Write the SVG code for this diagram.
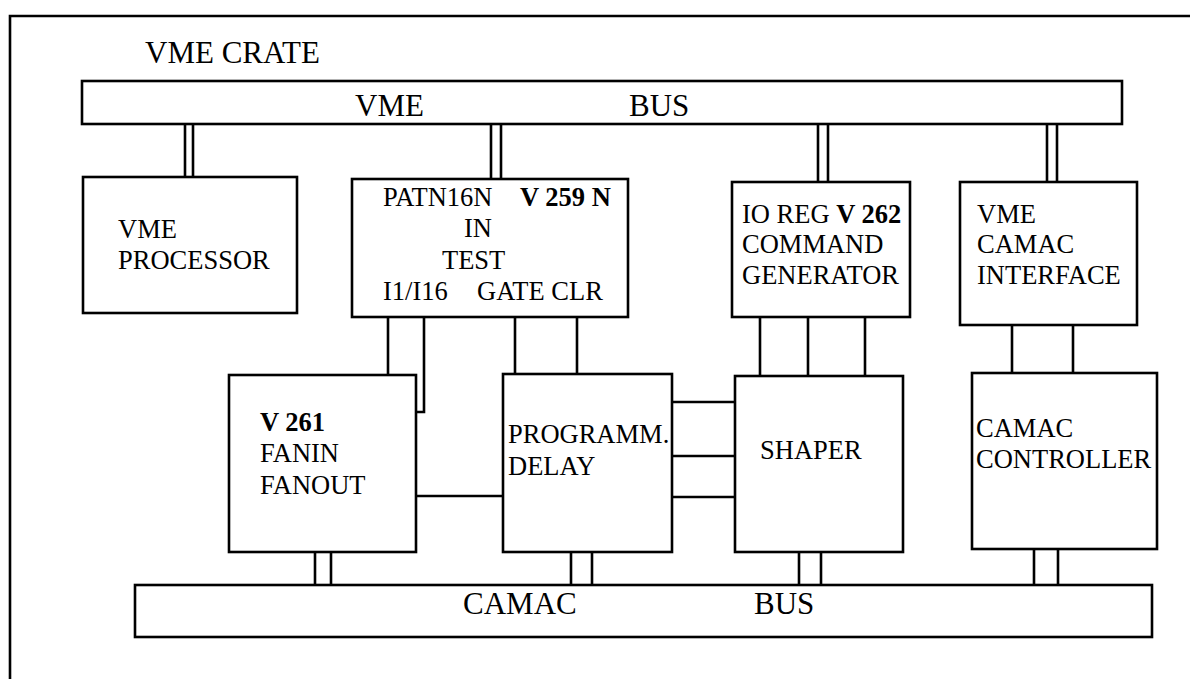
<svg xmlns="http://www.w3.org/2000/svg" width="1190" height="679" viewBox="0 0 1190 679">
<style>
.b{fill:#fff;stroke:#000;stroke-width:2.6}
.c{fill:none;stroke:#000;stroke-width:2.6}
.t{font-family:"Liberation Serif","Times New Roman",serif;font-size:26.5px;fill:#000}
.big{font-size:31px}
.bold{font-weight:bold}
</style>
<rect width="1190" height="679" fill="#fff"/>
<path class="c" d="M10,679 V16 H1190"/>
<text class="t big" x="145" y="63">VME CRATE</text>
<g id="connectors">
<path class="c" d="M185,124 V177 M193,124 V177"/>
<path class="c" d="M491,124 V179 M501,124 V179"/>
<path class="c" d="M818,124 V182 M828,124 V182"/>
<path class="c" d="M1047,124 V182 M1057,124 V182"/>
<path class="c" d="M388,317 V375"/>
<path class="c" d="M424,317 V412 H416"/>
<path class="c" d="M515,317 V374 M577,317 V374"/>
<path class="c" d="M760,317 V376 M808,317 V376 M865,317 V376"/>
<path class="c" d="M1012,325 V373 M1073,325 V373"/>
<path class="c" d="M416,496 H503"/>
<path class="c" d="M672,402 H735 M672,456 H735 M672,497 H735"/>
<path class="c" d="M315,552 V585 M331,552 V585"/>
<path class="c" d="M571,552 V585 M592,552 V585"/>
<path class="c" d="M799,552 V585 M821,552 V585"/>
<path class="c" d="M1034,549 V585 M1058,549 V585"/>
</g>
<g id="vmebus">
<rect class="b" x="82" y="81" width="1040" height="43"/>
<text class="t big" x="355" y="116">VME</text>
<text class="t big" x="629" y="116">BUS</text>
</g>
<g id="camacbus">
<rect class="b" x="135" y="585" width="1017" height="52"/>
<text class="t big" x="463" y="614">CAMAC</text>
<text class="t big" x="754" y="614">BUS</text>
</g>
<g id="processor">
<rect class="b" x="83" y="177" width="214" height="136"/>
<text class="t" x="118" y="238">VME</text>
<text class="t" x="118" y="269">PROCESSOR</text>
</g>
<g id="patn">
<rect class="b" x="352" y="179" width="276" height="138"/>
<text class="t" x="383" y="206">PATN16N</text>
<text class="t bold" x="520" y="206">V 259 N</text>
<text class="t" x="464" y="237">IN</text>
<text class="t" x="442" y="269">TEST</text>
<text class="t" x="383" y="300">I1/I16</text>
<text class="t" x="477" y="300">GATE CLR</text>
</g>
<g id="ioreg">
<rect class="b" x="732" y="182" width="178" height="135"/>
<text class="t" x="742" y="223">IO REG <tspan class="bold">V 262</tspan></text>
<text class="t" x="742" y="253">COMMAND</text>
<text class="t" x="742" y="284">GENERATOR</text>
</g>
<g id="interface">
<rect class="b" x="960" y="182" width="177" height="143"/>
<text class="t" x="977" y="223">VME</text>
<text class="t" x="977" y="253">CAMAC</text>
<text class="t" x="977" y="284">INTERFACE</text>
</g>
<g id="fanin">
<rect class="b" x="229" y="375" width="187" height="177"/>
<text class="t bold" x="260" y="431">V 261</text>
<text class="t" x="260" y="462">FANIN</text>
<text class="t" x="260" y="494">FANOUT</text>
</g>
<g id="delay">
<rect class="b" x="503" y="374" width="169" height="178"/>
<text class="t" x="508" y="443">PROGRAMM.</text>
<text class="t" x="508" y="475">DELAY</text>
</g>
<g id="shaper">
<rect class="b" x="735" y="376" width="168" height="176"/>
<text class="t" x="760" y="459">SHAPER</text>
</g>
<g id="controller">
<rect class="b" x="972" y="373" width="185" height="176"/>
<text class="t" x="976" y="437">CAMAC</text>
<text class="t" x="976" y="468">CONTROLLER</text>
</g>
</svg>
